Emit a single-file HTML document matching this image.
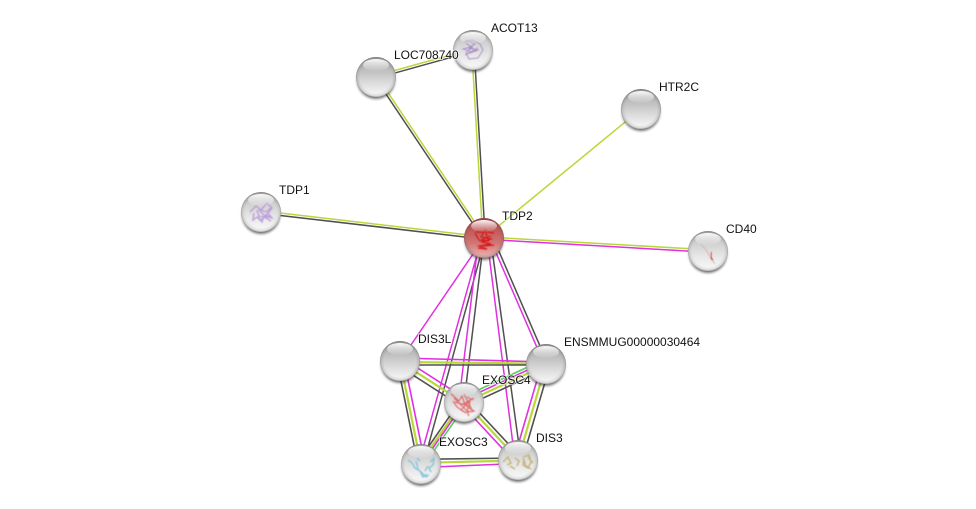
<!DOCTYPE html>
<html><head><meta charset="utf-8"><style>
html,body{margin:0;padding:0;background:#fff}
svg{display:block}
text{font:12px "Liberation Sans",Arial,sans-serif;fill:#111;paint-order:stroke;stroke:#fff;stroke-opacity:.6;stroke-width:2px}
.g{stroke:#b8d83a}.d{stroke:#505050}.m{stroke:#e030e0}.b{stroke:#55d060}
line{stroke-width:1.5}
.c line{stroke-width:1.6}
.c line.g{stroke-width:2.2}
.st{fill:none;filter:url(#bl)}
</style></head><body>
<svg width="976" height="509" viewBox="0 0 976 509" xmlns="http://www.w3.org/2000/svg">
<defs>
<filter id="bl" x="-20%" y="-20%" width="140%" height="140%"><feGaussianBlur stdDeviation=".45"/></filter>
<filter id="bs" x="-30%" y="-30%" width="160%" height="160%"><feGaussianBlur stdDeviation="1.3"/></filter>
<linearGradient id="s" x1="0" y1="0" x2="0" y2="1"><stop offset="0" stop-color="#989898"/><stop offset=".3" stop-color="#bcbcbc"/><stop offset=".65" stop-color="#dcdcdc"/><stop offset=".92" stop-color="#f4f4f4"/></linearGradient>
<linearGradient id="w" x1="0" y1="0" x2="0" y2="1"><stop offset="0" stop-color="#a8a8a8"/><stop offset=".3" stop-color="#d0d0d0"/><stop offset=".65" stop-color="#e8e8e8"/><stop offset=".92" stop-color="#f6f6f6"/></linearGradient>
<linearGradient id="r" x1="0" y1="0" x2="0" y2="1"><stop offset="0" stop-color="#a83a3a"/><stop offset=".3" stop-color="#c25858"/><stop offset=".65" stop-color="#d27878"/><stop offset=".92" stop-color="#e8a8a8"/></linearGradient>
<radialGradient id="rim" cx=".5" cy=".5" r=".5"><stop offset=".8" stop-color="#555" stop-opacity="0"/><stop offset=".94" stop-color="#555" stop-opacity=".16"/><stop offset="1" stop-color="#444" stop-opacity=".45"/></radialGradient>
<linearGradient id="h" x1="0" y1="0" x2="0" y2="1"><stop offset="0" stop-color="#fff" stop-opacity=".95"/><stop offset="1" stop-color="#fff" stop-opacity=".05"/></linearGradient>
<g id="n"><circle cx="0" cy="3" r="19" fill="#222" opacity=".65" filter="url(#bs)"/></g>
<g id="hl"><circle r="20" fill="url(#rim)"/><ellipse cx="0" cy="-12" rx="13" ry="6" fill="url(#h)"/></g>
</defs>

<!-- TDP2 edges -->
<line class="d" x1="483" y1="238.7" x2="375" y2="77.7"/><line class="g" x1="485" y1="237.3" x2="377" y2="76.3"/>
<line class="g" x1="482.8" y1="238" x2="471.8" y2="50"/><line class="d" x1="485.2" y1="238" x2="474.2" y2="50"/>
<line class="g" x1="484" y1="238" x2="641" y2="109"/>
<line class="g" x1="484" y1="236.8" x2="261" y2="210.8"/><line class="d" x1="484" y1="239.2" x2="261" y2="213.2"/>
<line class="g" x1="484" y1="236.8" x2="708" y2="249.8"/><line class="m" x1="484" y1="239.2" x2="708" y2="252.2"/>
<line class="m" x1="484" y1="238" x2="400" y2="361"/>
<line class="m" x1="481.8" y1="237.5" x2="418.8" y2="463.5"/><line class="d" x1="485.2" y1="238.5" x2="423.2" y2="464.5"/>
<line class="m" x1="478.8" y1="238" x2="458.8" y2="402"/><line class="d" x1="484" y1="238" x2="464" y2="402"/>
<line class="m" x1="487" y1="238.5" x2="515" y2="460.5"/><line class="d" x1="490.5" y1="238" x2="521" y2="460"/>
<line class="m" x1="490" y1="238.8" x2="544.5" y2="364.8"/><line class="d" x1="492.8" y1="237.2" x2="547.5" y2="363.2"/>
<!-- top -->
<line class="g" x1="375.7" y1="75.8" x2="472.7" y2="48.8"/><line class="d" x1="376.3" y1="78.2" x2="473.3" y2="51.2"/>

<!-- cluster -->
<g class="c">
<line class="m" x1="400" y1="358" x2="546" y2="362"/><line class="g" x1="400" y1="362" x2="546" y2="363.7"/><line class="d" x1="400" y1="365" x2="546" y2="365"/>
<line class="d" x1="398" y1="365.5" x2="462" y2="406.5"/><line class="g" x1="400" y1="361.8" x2="464" y2="402.8"/><line class="m" x1="402" y1="358" x2="466" y2="399"/>
<line class="d" x1="397" y1="361.6" x2="418" y2="464.6"/><line class="g" x1="400" y1="361" x2="421" y2="464"/><line class="m" x1="404" y1="360.4" x2="425" y2="463.4"/>
<line class="b" x1="544" y1="359.5" x2="462" y2="397.5"/><line class="m" x1="545.3" y1="361.8" x2="463.3" y2="399.8"/><line class="g" x1="546.5" y1="364.7" x2="464.5" y2="402.7"/><line class="d" x1="548" y1="368" x2="466" y2="406"/>
<line class="m" x1="542" y1="363" x2="514" y2="459"/><line class="g" x1="546" y1="364.2" x2="518" y2="460.2"/><line class="d" x1="550" y1="365" x2="522" y2="461"/>
<line class="d" x1="467" y1="399.5" x2="521" y2="457.5"/><line class="g" x1="464.4" y1="401.8" x2="518.4" y2="459.8"/><line class="m" x1="461.5" y1="404.5" x2="515.5" y2="462.5"/>
<line class="d" x1="461" y1="399.8" x2="418" y2="461.8"/><line class="g" x1="463" y1="401.2" x2="420" y2="463.2"/><line class="m" x1="464.5" y1="402.4" x2="421.5" y2="464.4"/><line class="b" x1="466.5" y1="403.8" x2="423.5" y2="465.8"/>
<line class="d" x1="421" y1="459.3" x2="518" y2="458"/><line class="g" x1="421" y1="462.8" x2="518" y2="460.5"/><line class="m" x1="421" y1="467.5" x2="518" y2="463.5"/>
</g>

<!-- spheres -->
<use href="#n" x="376" y="77"/><circle cx="376" cy="77" r="20" fill="url(#s)"/><use href="#hl" x="376" y="77"/>
<use href="#n" x="473" y="50"/><circle cx="473" cy="50" r="20" fill="url(#w)"/>
<path class="st" d="M464 42l8-2 8 4 3 6-5 8-9 1-3-6 6-6-9 2 9 3-7 3m1-12l10 8-9 3 11-6m-12-8l9 4-7 4 10 2-9 3" stroke="#9a78c0" stroke-width=".9" opacity=".8"/><use href="#hl" x="473" y="50"/>
<use href="#n" x="641" y="109"/><circle cx="641" cy="109" r="20" fill="url(#s)"/><use href="#hl" x="641" y="109"/>
<use href="#n" x="261" y="212"/><circle cx="261" cy="212" r="20" fill="url(#w)"/>
<path class="st" d="M250 212l6-6 5 4 6-7 5 5-4 5 4 5-8-2-2 6-5-5-4 3 1-7m5-3l8 8m-6 2l9-9m-13-1l3 10m-1-11l7 3 6-5m-12 9l6 2 5 3m-10-1l5-5 6 3" stroke="#b490d8" stroke-width="1.4" opacity=".8"/><use href="#hl" x="261" y="212"/>
<use href="#n" x="484" y="238"/><circle cx="484" cy="238" r="20" fill="url(#r)"/>
<path class="st" d="M476 232h8l-3 5 10 2-9 3 9 2-12 2 8 3-9-1m-3-15l4 7m8-8l7 1m-15 8l12-5m-8 10l11-1m-14-5l9 1m-4-12l2 8" stroke="#d81818" stroke-width="1.2"/><use href="#hl" x="484" y="238"/>
<use href="#n" x="708" y="251"/><circle cx="708" cy="251" r="20" fill="url(#w)"/>
<path class="st" d="M701 244l6 7 3 6 5 7" stroke="#d8b0b0" stroke-width=".9"/><path class="st" d="M711 252v6l2 2" stroke="#d04848" stroke-width="1.3"/><use href="#hl" x="708" y="251"/>
<use href="#n" x="400" y="361"/><circle cx="400" cy="361" r="20" fill="url(#s)"/><use href="#hl" x="400" y="361"/>
<use href="#n" x="546" y="364"/><circle cx="546" cy="364" r="20" fill="url(#s)"/><use href="#hl" x="546" y="364"/>
<use href="#n" x="464" y="402"/><circle cx="464" cy="402" r="20" fill="url(#w)"/>
<path class="st" d="M451 394l8 7 3-5 3 9 5-5-1 8 5 3-6 1-1-8-6 6 5 3-9-6-4-6m11-7l9 18m-10-8l11-6m-20 0l12 12 3 6m-14-14l14 4m-2-9l6 3" stroke="#e05858" stroke-width="1.2" opacity=".85"/><use href="#hl" x="464" y="402"/>
<use href="#n" x="421" y="464"/><circle cx="421" cy="464" r="20" fill="url(#w)"/>
<path class="st" d="M408 460l4 3 3 5 5 3 3 6 4-3m-9-5l-2-8m14 1l4-4-1 7-4 3 2 4m-11-11l-3-3m3 13l6 6 3-2m-1-9l-3 5" stroke="#80c4dc" stroke-width="1.3"/><use href="#hl" x="421" y="464"/>
<use href="#n" x="518" y="460"/><circle cx="518" cy="460" r="20" fill="url(#w)"/>
<path class="st" d="M503 462l5-5 3 6-4 2m8-7l4 3-2 5m6-9l6-2 2 7-3 6-5-3 1-6m-14 7l5 3m8-11l3 8 5 3m-3-12l5 6" stroke="#c4b478" stroke-width="1.4"/><use href="#hl" x="518" y="460"/>

<!-- labels -->
<text x="491" y="32">ACOT13</text>
<text x="394" y="59">LOC708740</text>
<text x="659" y="91">HTR2C</text>
<text x="279" y="194">TDP1</text>
<text x="502" y="220">TDP2</text>
<text x="726" y="233">CD40</text>
<text x="418" y="343">DIS3L</text>
<text x="564" y="346">ENSMMUG00000030464</text>
<text x="482" y="384">EXOSC4</text>
<text x="439" y="446">EXOSC3</text>
<text x="536" y="442">DIS3</text>
</svg>
</body></html>
